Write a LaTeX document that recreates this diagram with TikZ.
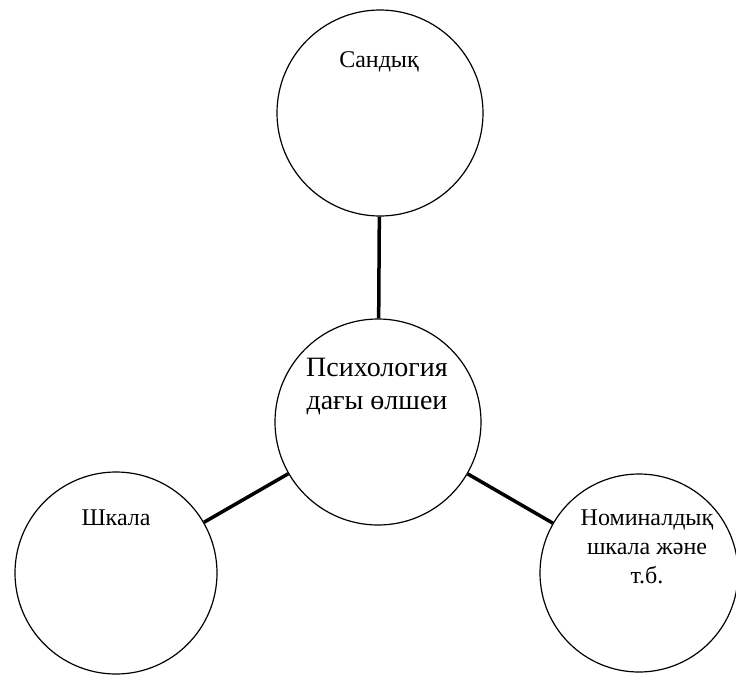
\documentclass[tikz,border=0pt]{standalone}
\usepackage{fontspec}
\setmainfont{Liberation Serif}
\begin{document}
\begin{tikzpicture}[x=1pt,y=-1pt,ev/.style={draw,circle,line width=1.2pt,minimum size=206pt,inner sep=0pt},lbl/.style={anchor=north,inner sep=0pt,align=center,font=\fontsize{24}{29}\selectfont},link/.style={line width=3.5pt}]
\useasboundingbox (0,0) rectangle (736,675);
\node[ev] (top) at (380,113) {};
\node[ev] (mid) at (378,422) {};
\node[ev,minimum size=202pt] (left) at (116,573) {};
\node[ev,minimum size=198pt] (right) at (639,573) {};
\node[lbl] (toptext) at (379,51) {Сандық};
\node[lbl,font=\fontsize{28}{33}\selectfont] (midtext) at (377,358) {Психология\\дағы өлшеи};
\node[lbl] (lefttext) at (116,510) {Шкала};
\node[lbl] (righttext) at (647,510) {Номиналдық\\шкала және\\т.б.};
\draw[link] (top) -- (mid);
\draw[link] (mid) -- (left);
\draw[link] (mid) -- (right);
\end{tikzpicture}
\end{document}
